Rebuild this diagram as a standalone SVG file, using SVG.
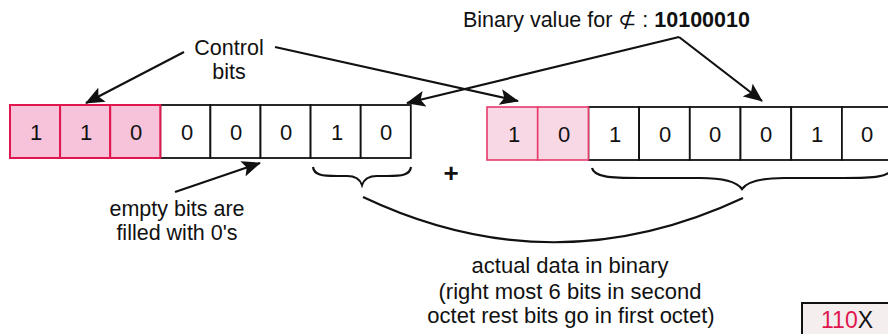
<svg xmlns="http://www.w3.org/2000/svg" width="888" height="334" viewBox="0 0 888 334">
  <defs>
    <marker id="ah" markerUnits="userSpaceOnUse" markerWidth="20" markerHeight="16" refX="18" refY="8" orient="auto">
      <path d="M0,0 L19,8 L0,16 L4,8 Z" fill="#111"/>
    </marker>
  </defs>
  <style>
    text { font-family: "Liberation Sans", Arial, sans-serif; fill: #111; }
    .lbl { font-size: 21.5px; text-anchor: middle; }
    .dig { font-size: 22px; text-anchor: middle; }
    .cell { fill: #ffffff; stroke: #111; stroke-width: 1.8; }
    .ctl1 { fill: #f6c3da; stroke: #e0174f; stroke-width: 2; }
    .ctl2 { fill: #f9d8e6; stroke: #e63a6b; stroke-width: 1.6; }
    .conn { fill: none; stroke: #111; stroke-width: 2.2; }
  </style>
  <rect width="888" height="334" fill="#ffffff"/>

  <g id="octet1">
    <rect class="cell" x="160.3" y="105" width="50.1" height="53"/>
    <rect class="cell" x="210.4" y="105" width="50.1" height="53"/>
    <rect class="cell" x="260.5" y="105" width="50.1" height="53"/>
    <rect class="cell" x="310.6" y="105" width="50.1" height="53"/>
    <rect class="cell" x="360.7" y="105" width="50.1" height="53"/>
    <rect class="ctl1" x="10" y="105" width="50.1" height="53"/>
    <rect class="ctl1" x="60.1" y="105" width="50.1" height="53"/>
    <rect class="ctl1" x="110.2" y="105" width="50.1" height="53"/>
    <text class="dig" x="36" y="140">1</text>
    <text class="dig" x="86" y="140">1</text>
    <text class="dig" x="136" y="140">0</text>
    <text class="dig" x="187" y="140">0</text>
    <text class="dig" x="236" y="140">0</text>
    <text class="dig" x="286" y="140">0</text>
    <text class="dig" x="337" y="140">1</text>
    <text class="dig" x="386" y="140">0</text>
  </g>

  <g id="octet2">
    <rect class="cell" x="588.4" y="107" width="50.7" height="53"/>
    <rect class="cell" x="639.1" y="107" width="50.7" height="53"/>
    <rect class="cell" x="689.8" y="107" width="50.7" height="53"/>
    <rect class="cell" x="740.5" y="107" width="50.7" height="53"/>
    <rect class="cell" x="791.2" y="107" width="50.7" height="53"/>
    <rect class="cell" x="841.9" y="107" width="50.7" height="53"/>
    <rect class="ctl2" x="487" y="107" width="50.7" height="53"/>
    <rect class="ctl2" x="537.7" y="107" width="50.7" height="53"/>
    <text class="dig" x="514" y="142">1</text>
    <text class="dig" x="564" y="142">0</text>
    <text class="dig" x="615" y="142">1</text>
    <text class="dig" x="665" y="142">0</text>
    <text class="dig" x="715" y="142">0</text>
    <text class="dig" x="766" y="142">0</text>
    <text class="dig" x="817" y="142">1</text>
    <text class="dig" x="867" y="142">0</text>
  </g>

  <g id="control-label">
    <text class="lbl" x="229" y="55">Control</text>
    <text class="lbl" x="229" y="79">bits</text>
  </g>

  <g id="binary-label">
    <text x="463" y="27" style="font-size:21.5px">Binary value for ⊄ : <tspan font-weight="bold">10100010</tspan></text>
  </g>

  <g id="empty-label">
    <text class="lbl" x="177" y="216">empty bits are</text>
    <text class="lbl" x="177" y="240">filled with 0's</text>
  </g>

  <g id="data-label">
    <text class="lbl" x="570" y="273" style="font-size:22px">actual data in binary</text>
    <text class="lbl" x="570" y="299" style="font-size:22px">(right most 6 bits in second</text>
    <text class="lbl" x="571" y="323" style="font-size:22px">octet rest bits go in first octet)</text>
  </g>

  <g id="plus">
    <text x="451" y="182" style="font-size:26px;font-weight:bold;text-anchor:middle">+</text>
  </g>

  <g id="result-box">
    <rect x="802" y="303" width="100" height="50" fill="#f4eeee" stroke="#111" stroke-width="2"/>
    <text x="821" y="328" style="font-size:23px"><tspan style="fill:#e0174f">110</tspan>X</text>
  </g>

  <g id="connectors">
    <path class="conn" d="M184,52 L86,103" marker-end="url(#ah)"/>
    <path class="conn" d="M275,47 L518,101" marker-end="url(#ah)"/>
    <path class="conn" d="M679,37 L407,103" marker-end="url(#ah)"/>
    <path class="conn" d="M679,37 L762,101" marker-end="url(#ah)"/>
    <path class="conn" d="M175,192 L260,163" marker-end="url(#ah)"/>
    <path class="conn" d="M313,167 C314,175 322,176 337,176 L347,176 C356,176 360,179 362,185 C364,179 368,176 377,176 L387,176 C402,176 410,175 411,167"/>
    <path class="conn" d="M592,168 C594,177 610,178 640,178 L700,178 C725,178 737,182 742,189 C747,182 759,178 784,178 L844,178 C874,178 890,177 892,168"/>
    <path class="conn" d="M363,197 Q553,287 743,198"/>
  </g>
</svg>
